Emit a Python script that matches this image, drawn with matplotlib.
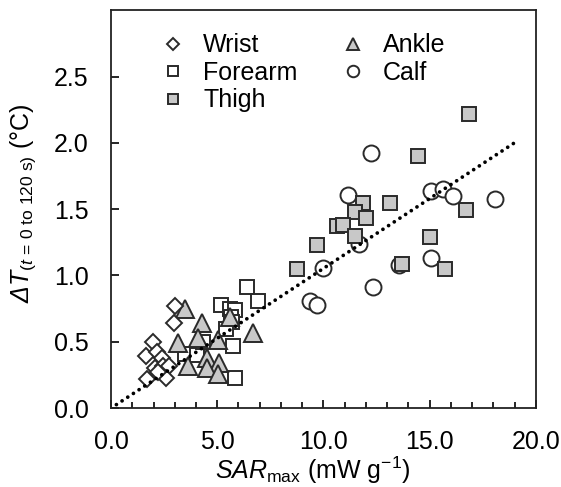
import matplotlib
matplotlib.use("Agg")
import matplotlib.pyplot as plt
from matplotlib.ticker import MultipleLocator, FormatStrFormatter

plt.rcParams['font.family'] = ['Liberation Sans', 'DejaVu Sans']
plt.rcParams['mathtext.fontset'] = 'custom'
plt.rcParams['mathtext.rm'] = 'Liberation Sans'
plt.rcParams['mathtext.it'] = 'Liberation Sans:italic'
plt.rcParams['mathtext.cal'] = 'Liberation Sans:italic'  # for an italic capital Delta
plt.rcParams['font.size'] = 18

# SAR_max (mW/g) and delta T (degC) per body site
wrist_x = [3.01, 2.96, 1.98, 1.65, 2.16, 2.40, 2.07, 2.45, 2.73, 2.59, 1.69, 2.21]
wrist_y = [0.77, 0.64, 0.50, 0.39, 0.42, 0.38, 0.30, 0.32, 0.32, 0.23, 0.22, 0.27]

forearm_x = [6.40, 6.92, 5.18, 5.60, 5.84, 5.65, 5.69, 5.41, 5.74, 5.84, 3.48, 4.05, 4.33]
forearm_y = [0.91, 0.81, 0.78, 0.75, 0.74, 0.69, 0.65, 0.60, 0.47, 0.23, 0.41, 0.40, 0.50]

thigh_x = [14.45, 11.86, 13.13, 11.48, 12.00, 10.64, 10.92, 11.48, 9.69, 8.75, 13.69, 15.01, 16.71, 15.72, 16.85]
thigh_y = [1.90, 1.55, 1.55, 1.48, 1.43, 1.37, 1.38, 1.30, 1.23, 1.05, 1.09, 1.29, 1.49, 1.05, 2.22]

ankle_x = [3.48, 4.28, 3.15, 4.09, 5.04, 6.68, 4.52, 5.08, 4.52, 5.04, 3.62, 5.60]
ankle_y = [0.75, 0.64, 0.49, 0.53, 0.51, 0.57, 0.38, 0.34, 0.30, 0.26, 0.32, 0.69]

calf_x = [12.24, 11.15, 15.06, 15.62, 16.09, 18.07, 11.67, 9.98, 13.55, 15.06, 12.33, 9.36, 9.69]
calf_y = [1.92, 1.61, 1.64, 1.65, 1.60, 1.58, 1.24, 1.06, 1.08, 1.13, 0.91, 0.81, 0.78]

fit_x = [0.25, 19.0]
fit_slope = 0.1053

y_ticks = [0.0, 0.5, 1.0, 1.5, 2.0, 2.5]

gray = '#c8c8c8'
edge = '#2a2a2a'

fig = plt.figure(figsize=(5.61, 4.87), dpi=100)
ax = fig.add_axes([0.198, 0.162, 0.757, 0.817])

fit_y = [fit_slope * v for v in fit_x]
ax.plot(fit_x, fit_y, color='black', lw=2.7, dashes=(0.01, 1.8),
        dash_capstyle='round', zorder=5)

kw = dict(linestyle='none', markeredgecolor=edge, markeredgewidth=1.4)
ax.plot(thigh_x, thigh_y, 's', ms=10.5, mfc=gray, label='Thigh', zorder=3, **kw)
ax.plot(calf_x, calf_y, 'o', ms=11.5, mfc='white', label='Calf', zorder=2, **kw)
ax.plot(forearm_x, forearm_y, 's', ms=10.5, mfc='white', label='Forearm', zorder=3, **kw)
ax.plot(ankle_x, ankle_y, '^', ms=12.5, mfc=gray, label='Ankle', zorder=3, **kw)
ax.plot(wrist_x, wrist_y, 'D', ms=8.3, mfc='white', label='Wrist', zorder=4, **kw)

ax.set_xlim(0, 20)
ax.set_ylim(0, 3.0)
ax.xaxis.set_major_locator(MultipleLocator(5))
ax.xaxis.set_minor_locator(MultipleLocator(1))
ax.set_yticks(y_ticks)
ax.xaxis.set_major_formatter(FormatStrFormatter('%.1f'))
ax.yaxis.set_major_formatter(FormatStrFormatter('%.1f'))
ax.tick_params(which='both', direction='in', top=False, right=False, width=1.2)
ax.tick_params(which='major', length=6, pad=16)
ax.tick_params(which='minor', length=4)
for s in ax.spines.values():
    s.set_linewidth(1.3)
    s.set_color('#222222')

ax.set_xlabel(r'$\mathit{SAR}_{\mathrm{max}}$ (mW g$^{\mathrm{-1}}$)')
ax.set_ylabel(r'$\mathcal{\Delta}\mathit{T}_{(\mathit{t}\,=\,\mathrm{0\ to\ 120\ s})}$ (°C)')
ax.xaxis.set_label_coords(0.475, -0.118)
ax.yaxis.set_label_coords(-0.172, 0.515)

h, l = ax.get_legend_handles_labels()
order = ['Wrist', 'Forearm', 'Thigh', 'Ankle', 'Calf']
hs = [h[l.index(n)] for n in order]
ax.legend(hs, order, ncol=2, frameon=False, loc='upper left',
          bbox_to_anchor=(0.1165, 0.942), borderaxespad=0, borderpad=0,
          handlelength=1.0, handletextpad=0.7, columnspacing=1.72,
          labelspacing=0.14, markerscale=0.72)

fig.savefig('out.png', dpi=100)
